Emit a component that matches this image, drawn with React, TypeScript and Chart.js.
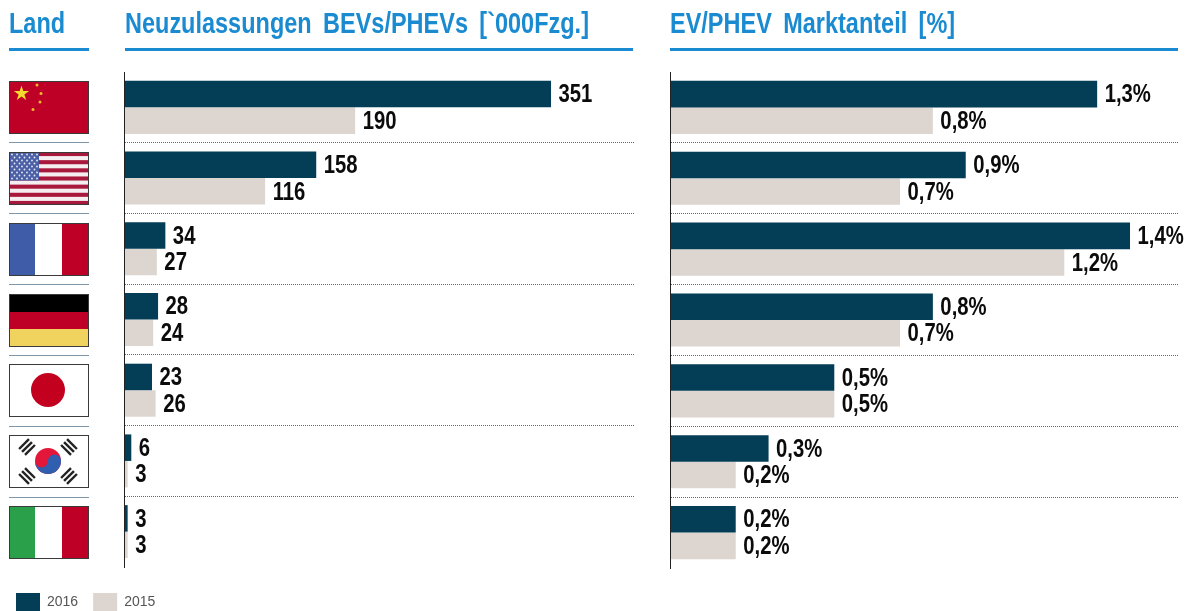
import React, { useEffect, useRef } from "react";
import { Chart, registerables } from "chart.js";

Chart.register(...registerables);

const countries = ["China", "USA", "Frankreich", "Deutschland", "Japan", "Südkorea", "Italien"];
const seriesLabels = ["2016", "2015"];
const registrations2016 = [351, 158, 34, 28, 23, 6, 3];
const registrations2015 = [190, 116, 27, 24, 26, 3, 3];
const share2016 = [1.3, 0.9, 1.4, 0.8, 0.5, 0.3, 0.2];
const share2015 = [0.8, 0.7, 1.2, 0.7, 0.5, 0.2, 0.2];
const headers = ["Land", "Neuzulassungen BEVs/PHEVs [`000Fzg.]", "EV/PHEV Marktanteil [%]"];

const DARK = "#033E56";
const LIGHT = "#DDD6D0";
const BLUE = "#1B8BD1";
const FONT = '"Liberation Sans", Arial, sans-serif';
const LABEL_CONDENSE = 0.78;
const HEADER_CONDENSE = 0.81;
const RED = "#BE0026";

const valueLabels = (format: (v: number) => string) => ({
  id: "valueLabels",
  afterDatasetsDraw(chart: any) {
    const { ctx } = chart;
    ctx.save();
    ctx.font = `bold 26px ${FONT}`;
    ctx.fillStyle = "#0B0B0B";
    ctx.textBaseline = "middle";
    ctx.textAlign = "left";
    chart.data.datasets.forEach((ds: any, i: number) => {
      chart.getDatasetMeta(i).data.forEach((bar: any, j: number) => {
        ctx.save();
        ctx.translate(bar.x + 7.5, bar.y + 1);
        ctx.scale(LABEL_CONDENSE, 1);
        ctx.fillText(format(ds.data[j]), 0, 0);
        ctx.restore();
      });
    });
    ctx.restore();
  },
});

function makeConfig(a: number[], b: number[], max: number, yWidth: number, extra: any, format: (v: number) => string) {
  return {
    type: "bar" as const,
    data: {
      labels: countries,
      datasets: [
        { label: seriesLabels[0], data: a, backgroundColor: DARK },
        { label: seriesLabels[1], data: b, backgroundColor: LIGHT },
      ],
    },
    plugins: [valueLabels(format)],
    options: {
      indexAxis: "y" as const,
      animation: false as const,
      responsive: false,
      devicePixelRatio: 1,
      datasets: { bar: { barPercentage: 1, categoryPercentage: 0.75 } },
      layout: { padding: extra.padding },
      plugins: {
        tooltip: { enabled: false },
        legend: extra.legend,
      },
      scales: {
        x: {
          min: 0,
          max,
          grid: { display: false },
          border: { display: false },
          ticks: { display: false },
          afterFit: (s: any) => { s.height = extra.xHeight; },
        },
        y: {
          offset: true,
          afterFit: (s: any) => { s.width = yWidth; },
          ticks: { display: false },
          border: { color: "#222", width: 1, dash: [1, 1], z: 1 },
          grid: {
            offset: true,
            drawTicks: false,
            lineWidth: 1,
            color: (c: any) => (c.type !== "tick" || c.index === 0 ? "rgba(0,0,0,0)" : "#4F6B82"),
          },
        },
      },
    },
  };
}

function Flag({ name }: { name: string }) {
  const w = 80, h = 53;
  let body: React.ReactNode = null;
  if (name === "China") {
    const star = (cx: number, cy: number, r: number) =>
      Array.from({ length: 10 }, (_, i) => {
        const a = -Math.PI / 2 + (i * Math.PI) / 5;
        const q = i % 2 ? r * 0.38 : r;
        return `${cx + q * Math.cos(a)},${cy + q * Math.sin(a)}`;
      }).join(" ");
    body = (
      <>
        <rect width={w} height={h} fill={RED} />
        <polygon points={star(12.5, 12.5, 8)} fill="#F6D92E" />
        {[[28, 4], [32, 12.5], [31, 21], [24, 28.5]].map(([x, y]) => (
          <circle key={x + "-" + y} cx={x} cy={y} r={1.5} fill="#EFB830" />
        ))}
      </>
    );
  } else if (name === "USA") {
    const stars: React.ReactNode[] = [];
    for (let r = 0; r < 9; r++)
      for (let c = 0; c < (r % 2 ? 5 : 6); c++)
        stars.push(<circle key={r + "_" + c} cx={(r % 2 ? 5.5 : 3) + c * 5} cy={2.5 + r * 3} r={0.9} fill="#E8ECF6" />);
    body = (
      <>
        <rect width={w} height={h} fill="#F4EEF0" />
        {Array.from({ length: 7 }, (_, i) => (
          <rect key={i} y={(i * 2 * h) / 13} width={w} height={h / 13} fill="#A8183C" />
        ))}
        <rect width={30} height={(7 * h) / 13} fill="#4A5FA5" />
        {stars}
      </>
    );
  } else if (name === "Frankreich" || name === "Italien") {
    body = (
      <>
        <rect width={w} height={h} fill="#fff" />
        <rect width={26} height={h} fill={name === "Italien" ? "#2BA04A" : "#3E5CA8"} />
        <rect x={53} width={27} height={h} fill={RED} />
      </>
    );
  } else if (name === "Deutschland") {
    body = (
      <>
        <rect width={w} height={18} fill="#000" />
        <rect y={18} width={w} height={17} fill={RED} />
        <rect y={35} width={w} height={18} fill="#F0D35E" />
      </>
    );
  } else if (name === "Japan") {
    body = (
      <>
        <rect width={w} height={h} fill="#fff" />
        <circle cx={39} cy={26} r={17} fill="#C4001F" />
      </>
    );
  } else {
    const tri = (cx: number, cy: number, rot: number) => (
      <g key={cx + "" + cy} transform={`translate(${cx} ${cy}) rotate(${rot})`} fill="#222">
        {[-4.2, 0, 4.2].map((d) => <rect key={d} x={-7} y={d - 1.2} width={14} height={2.4} />)}
      </g>
    );
    body = (
      <>
        <rect width={w} height={h} fill="#fff" />
        {tri(18, 12, -45)}
        {tri(60, 12, 45)}
        {tri(18, 41, 45)}
        {tri(60, 41, -45)}
        <circle cx={39} cy={26} r={13} fill="#E2173A" />
        <path d="M26 26 A13 13 0 0 0 52 26 A6.5 6.5 0 0 0 39 26 A6.5 6.5 0 0 1 26 26 Z" fill="#2F5FAE" />
      </>
    );
  }
  return (
    <svg width={w} height={h} viewBox={`0 0 ${w} ${h}`} style={{ display: "block" }}>
      {body}
      <rect x={0.5} y={0.5} width={w - 1} height={h - 1} fill="none" stroke="#3A3A3A" strokeWidth={1} />
    </svg>
  );
}

const abs = (left: number, top: number, extra: React.CSSProperties = {}): React.CSSProperties => ({
  position: "absolute",
  left,
  top,
  ...extra,
});

function Header({ text, x, w }: { text: string; x: number; w: number }) {
  return (
    <>
      <div
        style={abs(x, 6, {
          font: `bold 29px ${FONT}`,
          color: BLUE,
          whiteSpace: "pre",
          lineHeight: "34px",
          wordSpacing: "6px",
          transform: `scaleX(${HEADER_CONDENSE})`,
          transformOrigin: "left top",
        })}
      >
        {text}
      </div>
      <div style={abs(x, 48, { width: w, height: 3, background: BLUE })} />
    </>
  );
}

export default function App() {
  const leftRef = useRef<HTMLCanvasElement>(null);
  const rightRef = useRef<HTMLCanvasElement>(null);

  useEffect(() => {
    const left = new Chart(
      leftRef.current!,
      makeConfig(
        registrations2016,
        registrations2015,
        419.2,
        123,
        {
          padding: { top: 72, left: 1, right: 6 },
          xHeight: 11,
          legend: {
            display: true,
            position: "bottom",
            align: "start",
            labels: {
              boxWidth: 24,
              boxHeight: 18,
              padding: 15,
              color: "#555",
              font: { family: "Liberation Sans", size: 14 },
            },
          },
        },
        (v) => String(v)
      ) as any
    );
    const right = new Chart(
      rightRef.current!,
      makeConfig(
        share2016,
        share2015,
        1.546,
        30,
        { padding: { top: 72, bottom: 43, right: 14 }, xHeight: 0, legend: { display: false } },
        (v) => v.toFixed(1).replace(".", ",") + "%"
      ) as any
    );
    return () => {
      left.destroy();
      right.destroy();
    };
  }, []);

  return (
    <div style={{ position: "fixed", left: 0, top: 0, width: 1192, height: 611, overflow: "hidden", background: "#fff" }}>
      <canvas ref={leftRef} width={640} height={621} style={abs(0, 0, { display: "block" })} />
      <canvas ref={rightRef} width={552} height={611} style={abs(640, 0, { display: "block" })} />
      <Header text={headers[0]} x={9} w={80} />
      <Header text={headers[1]} x={125} w={508} />
      <Header text={headers[2]} x={670} w={508} />
      {countries.map((c, i) => (
        <div key={c} style={abs(9, 81 + i * 70.85, {})}>
          <Flag name={c} />
        </div>
      ))}
      {countries.slice(1).map((c, i) => (
        <div key={c} style={abs(9, 142 + i * 70.9, { width: 80, height: 1, background: "#7F96A8" })} />
      ))}
    </div>
  );
}
